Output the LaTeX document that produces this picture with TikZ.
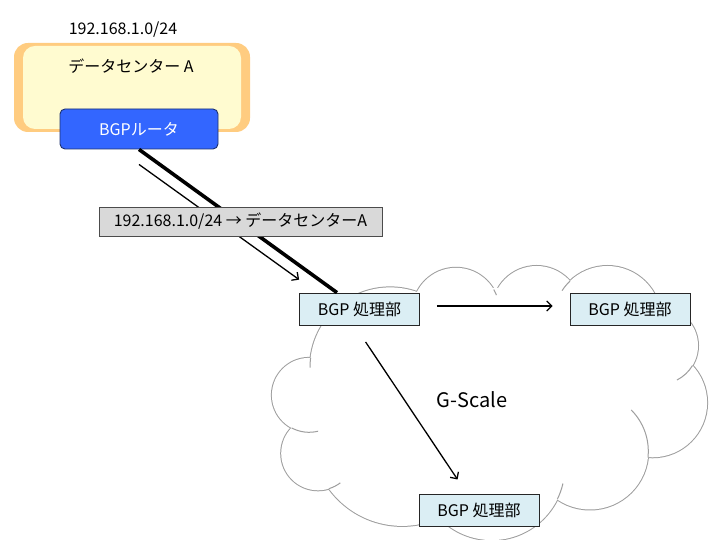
\documentclass[tikz,border=0pt]{standalone}
\usepackage{fontspec}
\setmainfont{Noto Sans CJK JP}
\usetikzlibrary{positioning, arrows.meta}

\definecolor{dcorange}{RGB}{255,204,128}
\definecolor{dcyellow}{RGB}{255,251,208}
\definecolor{routerblue}{RGB}{51,102,255}
\definecolor{routerline}{RGB}{30,50,110}
\definecolor{bgpfill}{RGB}{219,238,244}
\definecolor{labelgray}{RGB}{217,217,217}
\definecolor{cloudline}{RGB}{158,158,158}

\begin{document}
\begin{tikzpicture}[
    x=1pt, y=1pt,
    >={Straight Barb[length=5pt, width=10pt]},
    txt/.style={font=\fontsize{16}{18}\selectfont},
    glow/.style={
        rectangle,
        rounded corners=14pt,
        fill=dcorange,
        minimum width=236pt,
        minimum height=89pt
    },
    dcbox/.style={
        rectangle,
        rounded corners=12pt,
        fill=dcyellow,
        minimum width=218pt,
        minimum height=83pt
    },
    router/.style={
        rectangle,
        rounded corners=5pt,
        draw=routerline,
        line width=0.9pt,
        fill=routerblue,
        text=white,
        minimum width=158pt,
        minimum height=40pt,
        txt
    },
    bgpbox/.style={
        rectangle,
        draw=black!85,
        line width=0.75pt,
        fill=bgpfill,
        minimum width=120pt,
        minimum height=32pt,
        txt
    },
    routebox/.style={
        rectangle,
        draw=black!70,
        line width=0.75pt,
        fill=labelgray,
        minimum width=283pt,
        minimum height=29pt,
        txt
    },
    link/.style={line width=3.6pt},
    arrow/.style={->, line width=1.3pt},
    puff/.style={draw=cloudline, line width=2pt},
    cloudtail/.style={draw=cloudline, line width=1pt}
]
\useasboundingbox (0,0) rectangle (720,540);
\clip (0,0) rectangle (720,540);
\fill[white] (0,0) rectangle (720,540);

% Cloud (G-Scale)
\def\puffs{390.2/172.4/80.2, 456/228.6/43.6, 536.6/229.4/44.6, 607.4/220/54,
    659.5/194.3/38.5, 652.5/137.3/54.6, 590/88.8/58.3, 491.8/72.9/73,
    402.2/104.7/90.6, 318.1/86.6/36.9, 309.1/144.9/37.2}
\foreach \cx/\cy/\r in \puffs
    \draw[puff] (\cx,\cy) circle[radius=\r];
\foreach \cx/\cy/\r in \puffs
    \fill[white] (\cx,\cy) circle[radius=\r];
\fill[white] (311,182) -- (417,248) -- (496,252) -- (570,259) -- (655,230) -- (692,175)
    -- (648,83) -- (557,41) -- (439,23) -- (329,51) -- (291,112) -- cycle;
\foreach \cx/\cy/\r/\a/\b in {390.2/172.4/80.2/173/180, 456/228.6/43.6/30/22,
    607.4/220/54/134/147, 659.5/194.3/38.5/-31/-63, 590/88.8/58.3/-6/45,
    491.8/72.9/73/-26/-13, 318.1/86.6/36.9/-73/-53, 309.1/144.9/37.2/-118/-76}
    \draw[cloudtail] (\cx,\cy) ++(\a:\r) arc[start angle=\a, end angle=\b, radius=\r];
\node[font=\fontsize{20}{24}\selectfont] (gscale) at (472,140) {G-Scale};

% Data center A
\node[glow] (dcglow) at (132,452.5) {};
\node[dcbox] (dcbox) at (132,452.5) {};
\node[txt] (dctitle) at (131,474) {データセンター A};
\node[txt] (prefix) at (123,510) {192.168.1.0/24};
\node[router] (router) at (139,411) {BGPルータ};

% BGP processors
\node[bgpbox] (bgp1) at (359.5,231) {BGP 処理部};
\node[bgpbox] (bgp2) at (630,231) {BGP 処理部};
\node[bgpbox] (bgp3) at (479,30) {BGP 処理部};

% Peering and route advertisement
\coordinate (feed) at ([yshift=-15pt]router.south);
\coordinate (feedend) at ([yshift=13pt]bgp1.north west);
\draw[link] (router.south) -- ([xshift=-22.5pt]bgp1.north);
\draw[arrow] (feed) -- (feedend);

% Propagation inside G-Scale
\draw[arrow, shorten <=17pt, shorten >=17pt] ([yshift=3pt]bgp1.east) -- ([yshift=3pt]bgp2.west);
\draw[arrow, shorten <=20pt, shorten >=17pt] ([xshift=-5pt]bgp1.south) -- ([xshift=-12pt]bgp3.north);

% Route label
\node[routebox] (route) at (240.5,318.5) {192.168.1.0/24 → データセンターA};

\end{tikzpicture}
\end{document}
